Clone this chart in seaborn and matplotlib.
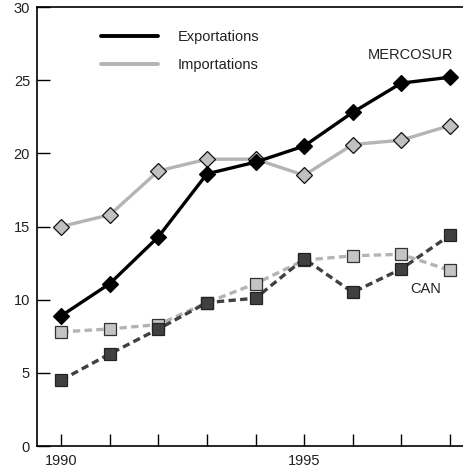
import matplotlib
matplotlib.use("Agg")
import matplotlib.pyplot as plt
from matplotlib.lines import Line2D
import seaborn as sns

years = [1990, 1991, 1992, 1993, 1994, 1995, 1996, 1997, 1998]
merc_exp = [8.9, 11.1, 14.3, 18.6, 19.4, 20.5, 22.8, 24.8, 25.2]
merc_imp = [15.0, 15.8, 18.8, 19.6, 19.6, 18.5, 20.6, 20.9, 21.9]
can_exp = [4.5, 6.3, 8.0, 9.8, 10.1, 12.8, 10.5, 12.1, 14.4]
can_imp = [7.8, 8.0, 8.3, 9.8, 11.1, 12.7, 13.0, 13.1, 12.0]
legend_labels = ["Exportations", "Importations"]
xtick_vals = [1990, 1995]
ytick_vals = [0, 5, 10, 15, 20, 25, 30]

sns.set_style("ticks")
plt.rcParams['font.family'] = ['Liberation Sans', 'DejaVu Sans']

fig = plt.figure(figsize=(4.63, 4.70), dpi=100)
ax = fig.add_axes([37/463, 1 - 446/470, 1 - 37/463, (446 - 7)/470])

light = "#b4b4b4"
dark = "#404040"
fs = 10.5

sns.lineplot(x=years, y=can_imp, ax=ax, color=light, lw=2.4, ls=(0, (2.2, 1.3)),
             marker='s', markersize=8.5, markerfacecolor="#c4c4c4",
             markeredgecolor="#333333", markeredgewidth=0.9)
sns.lineplot(x=years, y=can_exp, ax=ax, color=dark, lw=2.4, ls=(0, (2.2, 1.3)),
             marker='s', markersize=8.5, markerfacecolor=dark,
             markeredgecolor="#222222", markeredgewidth=0.9)
sns.lineplot(x=years, y=merc_imp, ax=ax, color=light, lw=2.4,
             marker='D', markersize=8.0, markerfacecolor="#c0c0c0",
             markeredgecolor="#111111", markeredgewidth=0.9)
sns.lineplot(x=years, y=merc_exp, ax=ax, color="black", lw=2.4,
             marker='D', markersize=8.0, markerfacecolor="black",
             markeredgecolor="black", markeredgewidth=0.9)

ax.set_xlim(1989.5, 1998.27)
ax.set_ylim(0, 30)
ax.set_xticks(years)
ax.set_xticklabels([str(y) if y in xtick_vals else "" for y in years])
ax.set_yticks(ytick_vals)
ax.set_yticklabels([str(v) for v in ytick_vals])
ax.tick_params(axis='both', direction='in', length=9, width=1, labelsize=fs,
               colors='black', labelcolor='#222222')
ax.tick_params(axis='x', pad=5.5)
ax.tick_params(axis='y', pad=5)
for s in ['left', 'bottom', 'top']:
    ax.spines[s].set_linewidth(1.2)
    ax.spines[s].set_color('black')
ax.spines['right'].set_visible(False)
ax.spines['top'].set_visible(True)

handles = [Line2D([0], [0], color="black", lw=2.8),
           Line2D([0], [0], color=light, lw=2.8)]
leg = ax.legend(handles, legend_labels, loc='upper left', bbox_to_anchor=(0.12, 0.978),
                frameon=False, fontsize=fs, handlelength=3.9, handletextpad=1.35,
                labelspacing=0.98)
for t in leg.get_texts():
    t.set_color('#222222')

ax.text(1998.07, 26.7, "MERCOSUR", ha='right', va='center', fontsize=fs, color='#222222')
ax.text(1997.18, 10.7, "CAN", ha='left', va='center', fontsize=fs, color='#222222')

fig.savefig("out.png", dpi=100)
